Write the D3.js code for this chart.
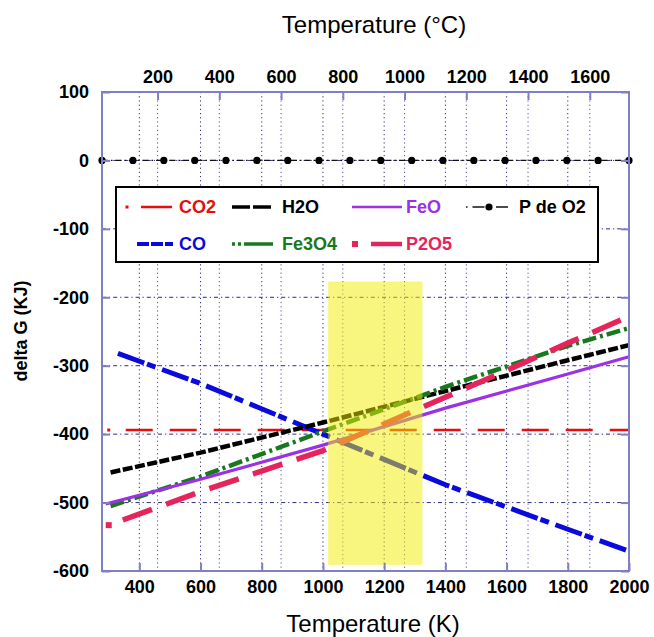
<!DOCTYPE html>
<html>
<head>
<meta charset="utf-8">
<script src="https://cdn.jsdelivr.net/npm/d3@7"></script>
<style>
  body { margin: 0; background: #fff; }
  svg { display: block; }
</style>
</head>
<body>
<div id="chart"></div>
<script>
// delta G (kJ) vs temperature (K)
const co2T = [300, 2000];
const co2G = [-394, -394];
const coT = [330, 600, 1000, 1400, 1800, 2000];
const coG = [-282, -326, -400, -474, -539, -571];
const h2oT = [306, 600, 1000, 1400, 1800, 2000];
const h2oG = [-456, -427, -383, -337, -292, -270];
const feoT = [290, 600, 1000, 1400, 1800, 2000];
const feoG = [-502, -466, -416, -362, -312, -287];
const fe3o4T = [306, 600, 1000, 1400, 1800, 2000];
const fe3o4G = [-505, -462, -396, -331, -271, -245];
const p2o5T = [300, 600, 1000, 1400, 1600, 1800, 2000];
const p2o5G = [-533, -484, -424, -346, -307, -267, -228];
const o2T = [278, 379, 480, 581, 683, 784, 885, 987, 1088, 1189, 1290, 1392, 1493, 1595, 1696, 1797, 1899, 2000];
const o2G = [0, 0, 0, 0, 0, 0, 0, 0, 0, 0, 0, 0, 0, 0, 0, 0, 0, 0];

// shaded zone
const zoneT = [1017, 1325];
const zoneG = [-177, -591];

const kTicks = [400, 600, 800, 1000, 1200, 1400, 1600, 1800, 2000];
const cTicks = [200, 400, 600, 800, 1000, 1200, 1400, 1600];
const gTicks = [100, 0, -100, -200, -300, -400, -500, -600];

const width = 654, height = 637;
const margin = { top: 92, right: 25, bottom: 66, left: 102 };
const innerWidth = width - margin.left - margin.right;
const innerHeight = height - margin.top - margin.bottom;
const font = "Arial, 'Liberation Sans', sans-serif";
const frameColor = '#7f7fc6';
const gridColor = '#2c2c86';
const plain = d => String(d);

const svg = d3.select('#chart').append('svg')
  .attr('width', width)
  .attr('height', height);

const g = svg.append('g')
  .attr('transform', `translate(${margin.left},${margin.top})`);

const x = d3.scaleLinear().domain([278, 2000]).range([0, innerWidth]);
const xc = d3.scaleLinear().domain([20, 1727]).range([0, innerWidth]);
const y = d3.scaleLinear().domain([-600, 100]).range([innerHeight, 0]);

// grid
const grid = g.append('g')
  .attr('stroke', gridColor)
  .attr('stroke-width', 1)
  .attr('stroke-dasharray', '1.2,3');

grid.selectAll('.vk')
  .data(kTicks.filter(d => d < 2000))
  .join('line')
  .attr('class', 'vk')
  .attr('x1', d => x(d)).attr('x2', d => x(d))
  .attr('y1', 0).attr('y2', innerHeight);

grid.selectAll('.vc')
  .data(cTicks)
  .join('line')
  .attr('class', 'vc')
  .attr('x1', d => xc(d)).attr('x2', d => xc(d))
  .attr('y1', 0).attr('y2', innerHeight)
  .attr('opacity', 0.8);

grid.selectAll('.h')
  .data(gTicks.filter(d => d > -600 && d < 100))
  .join('line')
  .attr('class', 'h')
  .attr('x1', 0).attr('x2', innerWidth)
  .attr('y1', d => y(d)).attr('y2', d => y(d))
  .attr('stroke-dasharray', '4,3,1.2,3');

// series
const series = [
  { name: 'CO2', T: co2T, G: co2G, color: '#e50d0d', w: 2.5, dash: '27,17', offset: 27, start: 3 },
  { name: 'CO', T: coT, G: coG, color: '#0a0adc', w: 5, dash: '28,3,9,7', offset: 0 },
  { name: 'H2O', T: h2oT, G: h2oG, color: '#000000', w: 4.5, dash: '10,2.5', offset: 0 },
  { name: 'Fe3O4', T: fe3o4T, G: fe3o4G, color: '#18781e', w: 4.5, dash: '14,4,3,4', offset: 0 },
  { name: 'FeO', T: feoT, G: feoG, color: '#9b30e6', w: 3.2, dash: null, offset: 0 },
  { name: 'P2O5', T: p2o5T, G: p2o5G, color: '#e5245c', w: 5.5, dash: '31,15', offset: 31, start: 6 }
];

const line = d3.line()
  .x(d => x(d[0]))
  .y(d => y(d[1]));

const lines = g.append('g');
series.forEach(s => {
  const pts = s.T.map((t, i) => [t, s.G[i]]);
  lines.append('path')
    .attr('d', line(pts))
    .attr('fill', 'none')
    .attr('stroke', s.color)
    .attr('stroke-width', s.w)
    .attr('stroke-dasharray', s.dash)
    .attr('stroke-dashoffset', s.offset);
  if (s.start) {
    lines.append('rect')
      .attr('x', x(pts[0][0]) - s.start / 2)
      .attr('y', y(pts[0][1]) - s.start / 2)
      .attr('width', s.start)
      .attr('height', s.start)
      .attr('fill', s.color);
  }
});

// yellow zone over the lines
g.append('rect')
  .attr('x', x(zoneT[0]))
  .attr('y', y(zoneG[0]))
  .attr('width', x(zoneT[1]) - x(zoneT[0]))
  .attr('height', y(zoneG[1]) - y(zoneG[0]))
  .attr('fill', '#f4ee00')
  .attr('opacity', 0.5);

// P de O2
const o2pts = o2T.map((t, i) => [t, o2G[i]]);
g.append('path')
  .attr('d', line(o2pts))
  .attr('fill', 'none')
  .attr('stroke', '#111')
  .attr('stroke-width', 1.3)
  .attr('stroke-dasharray', '6,3,1.5,3');
g.selectAll('.o2dot')
  .data(o2pts)
  .join('circle')
  .attr('class', 'o2dot')
  .attr('cx', d => x(d[0]))
  .attr('cy', d => y(d[1]))
  .attr('r', 3.6)
  .attr('fill', '#000');

// frame
g.append('rect')
  .attr('width', innerWidth)
  .attr('height', innerHeight)
  .attr('fill', 'none')
  .attr('stroke', frameColor)
  .attr('stroke-width', 2);

// axes
function styleAxis(sel) {
  sel.select('.domain').remove();
  sel.selectAll('.tick line').attr('stroke', frameColor).attr('stroke-width', 2);
  sel.selectAll('.tick text')
    .attr('font-family', font)
    .attr('font-size', 18)
    .attr('font-weight', 'bold')
    .attr('fill', '#000');
}

g.append('g')
  .attr('transform', `translate(0,${innerHeight})`)
  .call(d3.axisBottom(x).tickValues(kTicks).tickFormat(plain).tickSize(-8).tickPadding(9))
  .call(styleAxis);

g.append('g')
  .call(d3.axisTop(xc).tickValues(cTicks).tickFormat(plain).tickSize(-8).tickPadding(9))
  .call(styleAxis);

g.append('g')
  .call(d3.axisLeft(y).tickValues(gTicks).tickFormat(plain).tickSize(-8).tickPadding(13))
  .call(styleAxis);

g.append('g')
  .attr('transform', `translate(${innerWidth},0)`)
  .call(d3.axisRight(y).tickValues(gTicks).tickSize(-8).tickFormat(''))
  .call(styleAxis);

// titles
svg.append('text')
  .attr('x', 374).attr('y', 33)
  .attr('text-anchor', 'middle')
  .attr('font-family', font)
  .attr('font-size', 24)
  .text('Temperature (°C)');

svg.append('text')
  .attr('x', 373).attr('y', 632)
  .attr('text-anchor', 'middle')
  .attr('font-family', font)
  .attr('font-size', 24)
  .text('Temperature (K)');

svg.append('text')
  .attr('transform', 'translate(27,331) rotate(-90)')
  .attr('text-anchor', 'middle')
  .attr('font-family', font)
  .attr('font-size', 18)
  .attr('font-weight', 'bold')
  .text('delta G (KJ)');

// legend
const legend = svg.append('g');
legend.append('rect')
  .attr('x', 116).attr('y', 187)
  .attr('width', 482).attr('height', 75)
  .attr('fill', '#fff')
  .attr('stroke', '#000')
  .attr('stroke-width', 2);

const legendItems = [
  { s: series[0], lx: 141, ly: 207, len: 31, tx: 179 },
  { s: series[2], lx: 232, ly: 207, len: 41, tx: 282 },
  { s: series[4], lx: 352, ly: 207, len: 50, tx: 406 },
  { s: series[1], lx: 137, ly: 244, len: 36, tx: 179 },
  { s: series[3], lx: 232, ly: 244, len: 41, tx: 282 },
  { s: series[5], lx: 371, ly: 244, len: 31, tx: 406 }
];

legendItems.forEach(it => {
  const s = it.s;
  let dash = null;
  if (s.name === 'H2O') dash = '18,3';
  if (s.name === 'CO') dash = '12,2';
  if (s.name === 'Fe3O4') dash = '3,3,3,3,29';
  legend.append('line')
    .attr('x1', it.lx).attr('x2', it.lx + it.len)
    .attr('y1', it.ly).attr('y2', it.ly)
    .attr('stroke', s.color)
    .attr('stroke-width', Math.max(s.w - 1, 2.5))
    .attr('stroke-dasharray', dash);
  if (s.start) {
    const sz = s.name === 'CO2' ? 3 : 6;
    legend.append('rect')
      .attr('x', (s.name === 'CO2' ? 127 : 355) - sz / 2)
      .attr('y', it.ly - sz / 2)
      .attr('width', sz).attr('height', sz)
      .attr('fill', s.color);
  }
  legend.append('text')
    .attr('x', it.tx).attr('y', it.ly + 6)
    .attr('font-family', font)
    .attr('font-size', 18)
    .attr('font-weight', 'bold')
    .attr('fill', s.color)
    .text(s.name);
});

// P de O2 legend entry
legend.append('line')
  .attr('x1', 466).attr('x2', 508)
  .attr('y1', 207).attr('y2', 207)
  .attr('stroke', '#111')
  .attr('stroke-width', 1.3)
  .attr('stroke-dasharray', '1.5,5,12,5');
legend.append('circle')
  .attr('cx', 489).attr('cy', 207).attr('r', 3.6)
  .attr('fill', '#000');
legend.append('text')
  .attr('x', 519).attr('y', 213)
  .attr('font-family', font)
  .attr('font-size', 18)
  .attr('font-weight', 'bold')
  .attr('fill', '#000')
  .text('P de O2');
</script>
</body>
</html>
